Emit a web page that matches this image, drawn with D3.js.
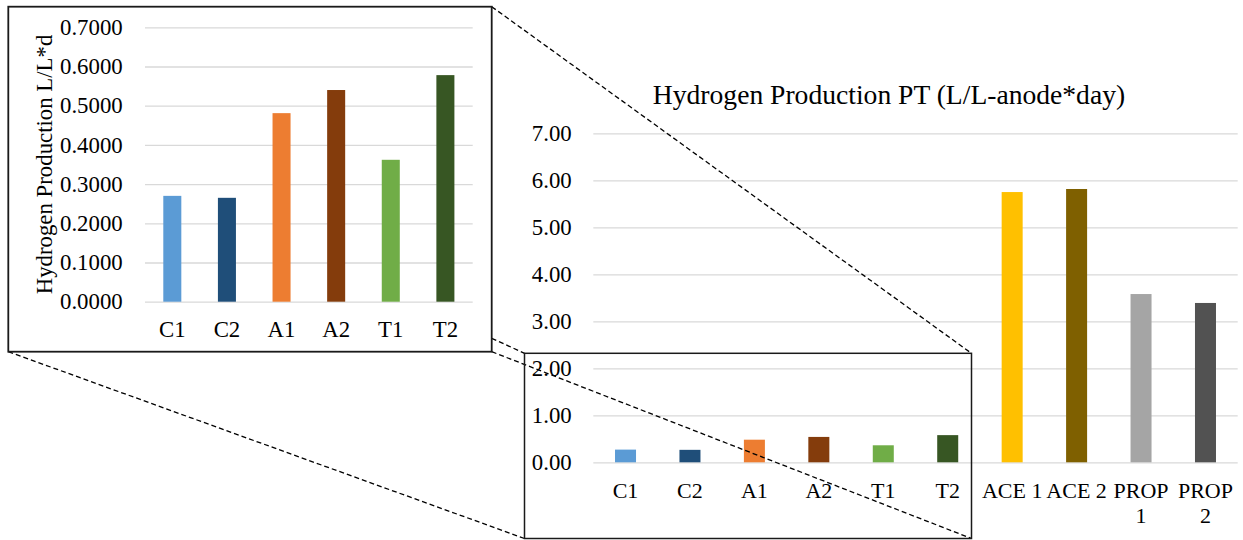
<!DOCTYPE html>
<html>
<head>
<meta charset="utf-8">
<script src="https://cdn.jsdelivr.net/npm/d3@7"></script>
<style>
  html, body { margin: 0; padding: 0; background: #fff; }
  svg { display: block; }
  text { font-family: "Liberation Serif", "Times New Roman", serif; fill: #000; }
</style>
</head>
<body>
<svg id="chart" width="1243" height="540"></svg>
<script>
// ---- data ----
const categories = ["C1", "C2", "A1", "A2", "T1", "T2", "ACE 1", "ACE 2", "PROP 1", "PROP 2"];
const values = [0.270, 0.265, 0.481, 0.540, 0.362, 0.578, 5.75, 5.815, 3.58, 3.39];
const barColors = ["#5B9BD5", "#1F4E79", "#ED7D31", "#843C0C", "#70AD47", "#375623", "#FFC000", "#7F6000", "#A5A5A5", "#525252"];
const mainTicks = [0, 1, 2, 3, 4, 5, 6, 7];
const insetTicks = [0, 0.1, 0.2, 0.3, 0.4, 0.5, 0.6, 0.7];
const insetCount = 6;
const mainTitle = "Hydrogen Production PT (L/L-anode*day)";
const insetYTitle = "Hydrogen Production L/L*d";

const svg = d3.select("#chart");
const data = categories.map((c, i) => ({ cat: c, val: values[i], color: barColors[i] }));
const insetData = data.slice(0, insetCount);

// ---------- main chart ----------
const mx = d3.scaleBand().domain(categories).range([593.3, 1237.7]).paddingInner(0.674).paddingOuter(0.337);
const my = d3.scaleLinear().domain([0, 7]).range([462.3, 133.3]);
const main = svg.append("g");

main.append("text")
  .attr("x", 889).attr("y", 104.3)
  .attr("text-anchor", "middle")
  .style("font-size", "27.6px")
  .text(mainTitle);

const myAxis = main.append("g")
  .attr("transform", `translate(${mx.range()[0]},0)`)
  .call(d3.axisLeft(my).tickValues(mainTicks).tickFormat(d3.format(".2f"))
    .tickSize(-(mx.range()[1] - mx.range()[0])).tickPadding(21.6));
myAxis.select(".domain").remove();
myAxis.selectAll("line").attr("stroke", "#d9d9d9").attr("stroke-width", 1.3);
myAxis.selectAll("text").style("font-size", "22.8px").attr("fill", "#000");

main.selectAll("rect.bar").data(data).join("rect")
  .attr("class", "bar")
  .attr("x", d => mx(d.cat))
  .attr("width", mx.bandwidth())
  .attr("y", d => my(d.val))
  .attr("height", d => my(0) - my(d.val))
  .attr("fill", d => d.color);

const mxAxis = main.append("g")
  .attr("transform", `translate(0,${my(0)})`)
  .call(d3.axisBottom(mx).tickSize(0));
mxAxis.select(".domain").remove();
mxAxis.selectAll("text")
  .attr("dy", null).attr("y", 35.4)
  .style("font-size", "22px").attr("fill", "#000")
  .each(function(d) {
    const t = d3.select(this);
    if (this.getComputedTextLength() > mx.step()) {
      const words = d.split(" ");
      const last = words.pop();
      t.text(null);
      t.append("tspan").attr("x", 0).attr("y", 35.4).text(words.join(" "));
      t.append("tspan").attr("x", 0).attr("y", 35.4 + 25.6).text(last);
    }
  });

// ---------- connector lines & zoom box ----------
const inset = { x0: 8.3, y0: 6.7, x1: 491.7, y1: 351.7 };
const zbox = { x0: 524.5, y0: 353.3, x1: 971.5, y1: 538.5 };
const dashed = [
  [[inset.x1, inset.y0], [zbox.x1, zbox.y0]],
  [[inset.x1, 338.3], [zbox.x0, zbox.y0]],
  [[inset.x1, inset.y1], [zbox.x1, zbox.y1]],
  [[inset.x0, inset.y1], [zbox.x0, zbox.y1]]
];
svg.append("g").selectAll("line").data(dashed).join("line")
  .attr("x1", d => d[0][0]).attr("y1", d => d[0][1])
  .attr("x2", d => d[1][0]).attr("y2", d => d[1][1])
  .attr("stroke", "#000").attr("stroke-width", 1.3).attr("stroke-dasharray", "5,3");

svg.append("rect")
  .attr("x", zbox.x0).attr("y", zbox.y0)
  .attr("width", zbox.x1 - zbox.x0).attr("height", zbox.y1 - zbox.y0)
  .attr("fill", "none").attr("stroke", "#1a1a1a").attr("stroke-width", 1.5);

// ---------- inset chart ----------
const ig = svg.append("g");
ig.append("rect")
  .attr("x", inset.x0).attr("y", inset.y0)
  .attr("width", inset.x1 - inset.x0).attr("height", inset.y1 - inset.y0)
  .attr("fill", "#fff").attr("stroke", "#1a1a1a").attr("stroke-width", 1.8);

const ix = d3.scaleBand().domain(insetData.map(d => d.cat)).range([145, 472.7]).paddingInner(0.67).paddingOuter(0.335);
const iy = d3.scaleLinear().domain([0, 0.7]).range([301.7, 27.3]);

const iyAxis = ig.append("g")
  .attr("transform", `translate(${ix.range()[0]},0)`)
  .call(d3.axisLeft(iy).tickValues(insetTicks).tickFormat(d3.format(".4f"))
    .tickSize(-(ix.range()[1] - ix.range()[0])).tickPadding(22.3));
iyAxis.select(".domain").remove();
iyAxis.selectAll("line").attr("stroke", "#d9d9d9").attr("stroke-width", 1.3);
iyAxis.selectAll("text").style("font-size", "22.8px").attr("fill", "#000");

ig.selectAll("rect.ibar").data(insetData).join("rect")
  .attr("class", "ibar")
  .attr("x", d => ix(d.cat))
  .attr("width", ix.bandwidth())
  .attr("y", d => iy(d.val))
  .attr("height", d => iy(0) - iy(d.val))
  .attr("fill", d => d.color);

const ixAxis = ig.append("g")
  .attr("transform", `translate(0,${iy(0)})`)
  .call(d3.axisBottom(ix).tickSize(0));
ixAxis.select(".domain").remove();
ixAxis.selectAll("text")
  .attr("dy", null).attr("y", 35.6)
  .style("font-size", "22.8px").attr("fill", "#000");

ig.append("text")
  .attr("transform", "rotate(-90)")
  .attr("x", -(iy.range()[0] + iy.range()[1]) / 2)
  .attr("y", 51.7)
  .attr("text-anchor", "middle")
  .style("font-size", "22.8px")
  .text(insetYTitle);
</script>
</body>
</html>
